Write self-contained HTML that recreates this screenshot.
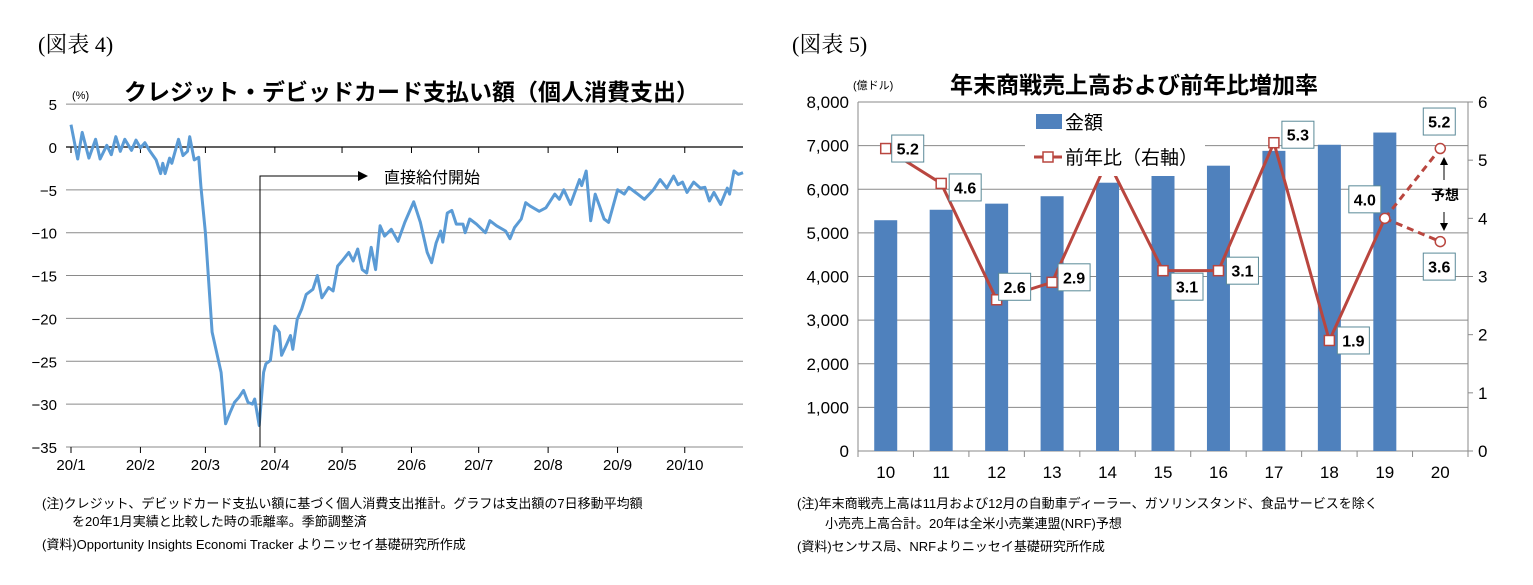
<!DOCTYPE html>
<html><head><meta charset="utf-8">
<style>
body{margin:0;background:#fff;}
svg text{font-family:"Liberation Sans","Noto Sans CJK JP",sans-serif;}
</style></head>
<body>
<svg width="1533" height="580" xmlns="http://www.w3.org/2000/svg">
<text x="38" y="52" font-size="22" style="font-family:'Liberation Serif','Noto Serif CJK SC',serif">(図表 4)</text>
<text x="792" y="52" font-size="22" style="font-family:'Liberation Serif','Noto Serif CJK SC',serif">(図表 5)</text>
<text x="72" y="99" font-size="11">(%)</text>
<text x="124" y="100" font-size="23" font-weight="bold">クレジット・デビッドカード支払い額（個人消費支出）</text>
<text x="853" y="89" font-size="11">(億ドル)</text>
<text x="950" y="93" font-size="23" font-weight="bold">年末商戦売上高および前年比増加率</text>
<g id="left"></g>
<g id="right"></g>
<g font-size="13">
<text x="42" y="508">(注)クレジット、デビッドカード支払い額に基づく個人消費支出推計。グラフは支出額の7日移動平均額</text>
<text x="72" y="526">を20年1月実績と比較した時の乖離率。季節調整済</text>
<text x="42" y="549">(資料)Opportunity Insights Economi Tracker よりニッセイ基礎研究所作成</text>
<text x="797" y="508">(注)年末商戦売上高は11月および12月の自動車ディーラー、ガソリンスタンド、食品サービスを除く</text>
<text x="825" y="528">小売売上高合計。20年は全米小売業連盟(NRF)予想</text>
<text x="797" y="551">(資料)センサス局、NRFよりニッセイ基礎研究所作成</text>
</g>
</svg>
<script>
const NS="http://www.w3.org/2000/svg";
const leftDays=[0,3,5,8,11,13,16,18,20,22,24,27,29,31,33,35,38,40,41,42,44,45,48,50,52,53,55,57,58,60,63,67,69,71,73,75,77,79,81,82,84,86,87,89,91,93,94,96,98,99,101,103,105,108,110,112,115,117,119,121,124,126,128,130,132,134,136,138,140,143,146,149,153,156,159,161,163,165,166,168,170,172,175,176,178,181,185,187,190,194,196,198,201,203,205,209,212,216,218,220,223,227,228,230,232,234,236,238,240,244,247,249,253,256,260,263,266,269,271,273,275,278,281,283,285,287,290,293,294,296,298,300];
const leftVals=[2.6,-1.4,1.7,-1.3,0.9,-1.4,0.2,-0.9,1.2,-0.5,0.9,-0.4,0.8,-0.1,0.5,-0.4,-1.5,-3.1,-1.9,-3.1,-1.3,-1.9,0.9,-1.0,-0.5,1.2,-1.5,-1.2,-4.6,-10,-21.6,-26.3,-32.3,-31,-29.8,-29.2,-28.4,-29.8,-30,-29.4,-32.5,-26.3,-25.3,-24.9,-20.9,-21.6,-24.3,-23.2,-22.0,-23.6,-20.1,-18.9,-17.2,-16.6,-15.0,-17.6,-16.4,-16.8,-13.9,-13.3,-12.3,-13.3,-11.9,-14.3,-14.7,-11.7,-14.3,-9.2,-10.4,-9.6,-11.0,-8.8,-6.4,-8.8,-12.3,-13.5,-11.2,-9.8,-11.1,-7.7,-7.4,-9.0,-9.0,-10.0,-8.4,-9.0,-10.0,-8.6,-9.2,-9.8,-10.7,-9.4,-8.4,-6.5,-6.9,-7.5,-7.1,-5.5,-6.1,-5.0,-6.7,-3.8,-4.5,-2.8,-8.6,-5.5,-6.9,-8.4,-8.8,-5.0,-5.5,-4.7,-5.5,-6.1,-5.0,-3.8,-4.8,-3.4,-4.4,-4.1,-5.3,-4.1,-4.8,-4.7,-6.3,-5.3,-6.7,-4.8,-5.5,-2.8,-3.2,-3.0];
const leftYTicks=[5,0,-5,-10,-15,-20,-25,-30,-35];
const monthLabels=["20/1","20/2","20/3","20/4","20/5","20/6","20/7","20/8","20/9","20/10"];
const monthStartDays=[0,31,60,91,121,152,182,213,244,274];

const years=["10","11","12","13","14","15","16","17","18","19","20"];
const salesVals=[5290,5530,5670,5840,6150,6320,6540,6880,7020,7300];
const growthVals=[5.2,4.6,2.6,2.9,5.0,3.1,3.1,5.3,1.9,4.0];
const forecastHigh=5.2, forecastLow=3.6;
const leftAxisTicks=[0,1000,2000,3000,4000,5000,6000,7000,8000];
const rightAxisTicks=[0,1,2,3,4,5,6];

function mk(p,t,a,txt){const e=document.createElementNS(NS,t);for(const k in a)e.setAttribute(k,a[k]);if(txt!==undefined)e.textContent=txt;p.appendChild(e);return e;}
// LEFT
const L=document.getElementById('left');
const lx=d=>71+d*2.24, ly=v=>147-v*8.57;
leftYTicks.forEach(v=>{
 const g=mk(L,'line',{x1:66,x2:743,y1:ly(v),y2:ly(v),stroke:v===0?'#000':'#8a8a8a','stroke-width':v===0?1.2:1});
 
 const t=mk(L,'text',{x:57,y:ly(v)+6,'font-size':15,'text-anchor':'end'},v<0?'−'+(-v):String(v));
 
});
monthStartDays.forEach((d,i)=>{
 const x=lx(d);
 mk(L,'line',{x1:x,x2:x,y1:147,y2:153,stroke:'#000'});
 mk(L,'line',{x1:x,x2:x,y1:447,y2:453,stroke:'#000'});
 const t=mk(L,'text',{x:x,y:470,'font-size':15,'text-anchor':'middle'},monthLabels[i]);
 
});
let pts=leftDays.map((d,i)=>lx(d).toFixed(1)+','+ly(leftVals[i]).toFixed(1)).join(' ');
const pl=mk(L,'polyline',{points:pts,fill:'none',stroke:'#5b9bd5','stroke-width':3,'stroke-linejoin':'round'});

const ann=mk(L,'path',{d:'M260 447 V176 H358',fill:'none',stroke:'#000','stroke-width':1});

mk(L,'polygon',{points:'358,171 368,176 358,181',fill:'#000'});
const at=mk(L,'text',{x:384,y:183,'font-size':16},'直接給付開始');


// RIGHT
const R=document.getElementById('right');
const x0=858,x1=1468,bw=(x1-x0)/11;
const ry=v=>451-v*349/8000, ry2=v=>451-v*349/6, cx=i=>x0+bw*(i+0.5);
leftAxisTicks.forEach(v=>{
 const g=mk(R,'line',{x1:x0,x2:x1,y1:ry(v),y2:ry(v),stroke:'#8a8a8a'});
 
 const t=mk(R,'text',{x:849,y:ry(v)+6,'font-size':17,'text-anchor':'end'},v.toLocaleString('en-US'));
 
});
rightAxisTicks.forEach(v=>{
 mk(R,'line',{x1:x1,x2:x1+5,y1:ry2(v),y2:ry2(v),stroke:'#8a8a8a'});
 const t=mk(R,'text',{x:1478,y:ry2(v)+6,'font-size':17},String(v));
 
});
mk(R,'line',{x1:x0,x2:x0,y1:102,y2:451,stroke:'#8a8a8a'});
mk(R,'line',{x1:x1,x2:x1,y1:102,y2:451,stroke:'#8a8a8a'});
for(let i=0;i<=11;i++)mk(R,'line',{x1:x0+bw*i,x2:x0+bw*i,y1:451,y2:457,stroke:'#8a8a8a'});
years.forEach((y,i)=>{const t=mk(R,'text',{x:cx(i),y:478,'font-size':17,'text-anchor':'middle'},y);
 });
salesVals.forEach((v,i)=>{const b=mk(R,'rect',{x:cx(i)-11.5,y:ry(v),width:23,height:451-ry(v),fill:'#4f81bd'});
 });
const lp=growthVals.map((v,i)=>cx(i)+','+ry2(v)).join(' ');
const gl=mk(R,'polyline',{points:lp,fill:'none',stroke:'#b9463f','stroke-width':3});

[forecastHigh,forecastLow].forEach(v=>{const d=mk(R,'line',{x1:cx(9),y1:ry2(growthVals[9]),x2:cx(10),y2:ry2(v),stroke:'#b9463f','stroke-width':3,'stroke-dasharray':'7,5'});
 });
growthVals.forEach((v,i)=>{if(i===9){mk(R,'circle',{cx:cx(i),cy:ry2(v),r:5,fill:'#fff',stroke:'#b9463f','stroke-width':1.5});return;}
 const m=mk(R,'rect',{x:cx(i)-5,y:ry2(v)-5,width:10,height:10,fill:'#fff',stroke:'#b9463f','stroke-width':1.5});
 });
[forecastHigh,forecastLow].forEach(v=>mk(R,'circle',{cx:cx(10),cy:ry2(v),r:5,fill:'#fff',stroke:'#b9463f','stroke-width':1.5}));
// legend (covers line)
const lg=mk(R,'rect',{x:1025,y:104,width:180,height:72,fill:'#fff'});

mk(R,'rect',{x:1036,y:114,width:26,height:15,fill:'#4f81bd'});
const l1=mk(R,'text',{x:1065,y:129,'font-size':19},'金額');
mk(R,'line',{x1:1034,x2:1062,y1:157,y2:157,stroke:'#b9463f','stroke-width':3});
mk(R,'rect',{x:1043,y:152,width:10,height:10,fill:'#fff',stroke:'#b9463f','stroke-width':1.5});
const l2=mk(R,'text',{x:1065,y:164,'font-size':19},'前年比（右軸）');
// data labels
const labelVals=[5.2,4.6,2.6,2.9,null,3.1,3.1,5.3,1.9,4.0];
const offs=[[22,0],[24,4],[18,-13],[22,-5],null,[24,16],[24,0],[24,-8],[24,0],[-20,-19]];
function lab(x,y,txt){const w=32,h=27;
 const r=mk(R,'rect',{x:x-w/2,y:y-h/2,width:w,height:h,fill:'#fff',stroke:'#5a8a98','stroke-width':1});
 
 const t=mk(R,'text',{x:x,y:y+6,'font-size':16,'font-weight':'bold','text-anchor':'middle'},txt);
 }
labelVals.forEach((v,i)=>{if(v===null)return;lab(cx(i)+offs[i][0],ry2(growthVals[i])+offs[i][1],v.toFixed(1));});
lab(cx(10)-1,ry2(forecastHigh)-27,forecastHigh.toFixed(1));
lab(cx(10)-1,ry2(forecastLow)+25,forecastLow.toFixed(1));
const fy=mk(R,'text',{x:1445,y:200,'font-size':14,'font-weight':'bold','text-anchor':'middle'},'予想');

mk(R,'line',{x1:1444,x2:1444,y1:180,y2:163,stroke:'#000'});mk(R,'polygon',{points:'1440,165 1444,157 1448,165',fill:'#000'});
mk(R,'line',{x1:1444,x2:1444,y1:212,y2:225,stroke:'#000'});mk(R,'polygon',{points:'1440,223 1444,231 1448,223',fill:'#000'});
</script>
</body></html>
